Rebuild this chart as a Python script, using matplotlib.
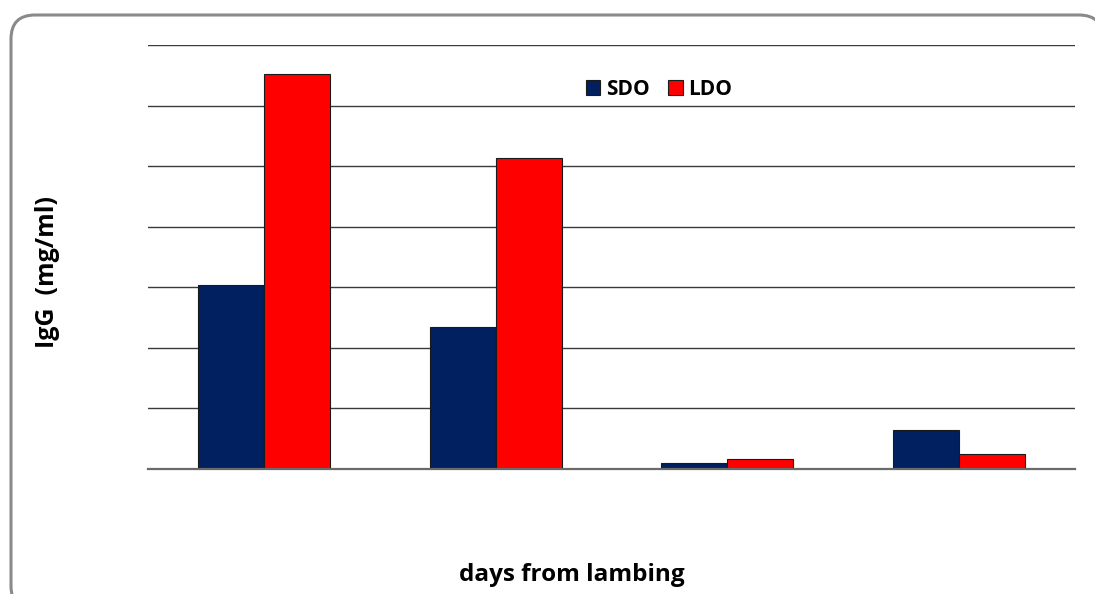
import matplotlib.pyplot as plt
import matplotlib.patches as mpatches
import numpy as np

# IgG per sampling day (no tick labels on the axis)
groups = ["1", "2", "3", "4"]
sdo = [30.4, 23.4, 1.0, 6.4]
ldo = [65.2, 51.3, 1.6, 2.5]

SDO_COLOR = "#002060"
LDO_COLOR = "#FF0000"

plt.rcParams["font.family"] = ["Open Sans", "DejaVu Sans"]

fig = plt.figure(figsize=(10.95, 5.94), dpi=100)

# rounded chart-area frame, drawn in pixel coordinates
bg = fig.add_axes([0, 0, 1, 1])
bg.set_xlim(0, 1095)
bg.set_ylim(594, 0)
bg.axis("off")
frame = mpatches.FancyBboxPatch(
    (11, 15), 1092, 595,
    boxstyle="round,pad=0,rounding_size=24",
    facecolor="white", edgecolor="#8a8a8a", linewidth=2.2,
)
bg.add_patch(frame)

ax = fig.add_axes([0.1352, 0.2104, 0.8466, 0.7138])
ax.patch.set_alpha(0)

x = np.arange(len(groups))
w = 0.285
ax.bar(x - w / 2, sdo, width=w, color=SDO_COLOR, edgecolor="#1a1a1a",
       linewidth=0.8, label="SDO", zorder=3)
ax.bar(x + w / 2, ldo, width=w, color=LDO_COLOR, edgecolor="#1a1a1a",
       linewidth=0.8, label="LDO", zorder=3)

ax.set_xlim(-0.5, len(groups) - 0.5)
ax.set_ylim(0, 70)
ax.set_yticks(np.arange(0, 71, 10))
ax.yaxis.grid(True, color="#3a3a3a", linewidth=1.0, zorder=0)
ax.set_axisbelow(True)
ax.tick_params(left=False, bottom=False, labelleft=False, labelbottom=False)
for s in ["top", "right", "left"]:
    ax.spines[s].set_visible(False)
ax.spines["bottom"].set_color("#6a6a6a")
ax.spines["bottom"].set_linewidth(1.6)
ax.spines["bottom"].set_zorder(4)

ax.legend(loc="center", bbox_to_anchor=(0.551, 0.895), ncol=2, frameon=False,
          prop={"weight": "bold", "size": 15},
          handlelength=0.7, handleheight=0.7, handletextpad=0.25,
          columnspacing=0.9)

fig.text(0.522, 0.032, "days from lambing", ha="center", va="center",
         fontsize=17.5, fontweight="bold")
fig.text(0.043, 0.542, "IgG  (mg/ml)", ha="center", va="center",
         rotation=90, fontsize=18, fontweight="bold")

fig.savefig("out.png", dpi=100)
